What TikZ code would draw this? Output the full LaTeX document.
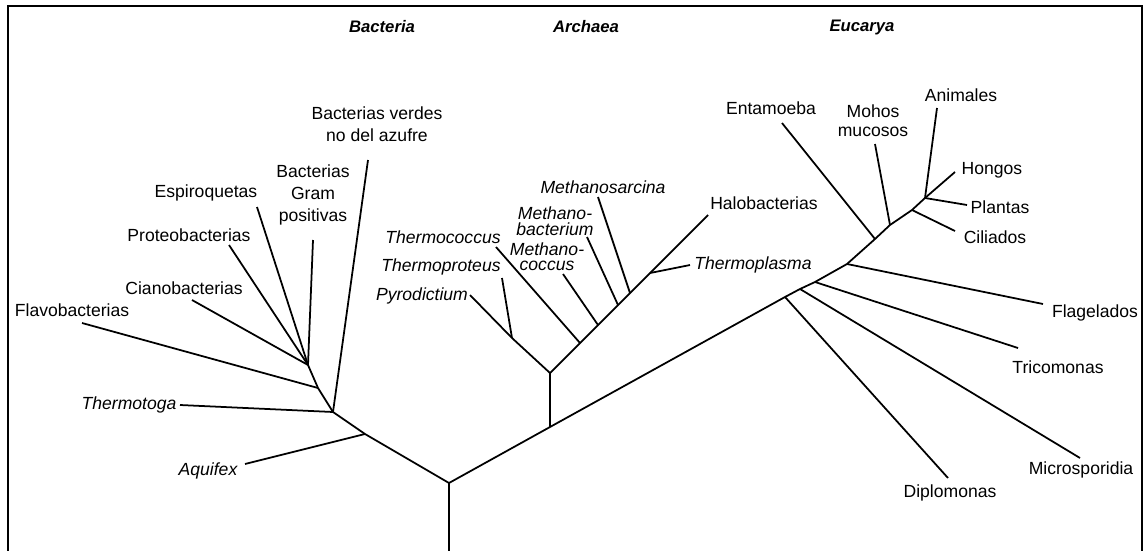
\documentclass[tikz,border=0pt]{standalone}
\usepackage{fontspec}
\setmainfont{Liberation Sans}

\begin{document}
\begin{tikzpicture}[x=0.02cm, y=-0.02cm,
    lbl/.style={inner sep=0pt, font=\fontsize{10}{12.5}\selectfont, align=center},
    ilbl/.style={lbl, font=\fontsize{10}{12.5}\selectfont\itshape},
    dom/.style={inner sep=0pt, font=\fontsize{9.5}{11}\selectfont\bfseries\itshape},
    branch/.style={line width=1pt, line join=round}]
    \useasboundingbox (0,0) rectangle (1143,551);

    % Frame
    \draw[line width=1.4pt] (8,551) -- (8,6) -- (1142,6) -- (1142,551);

    % Domains
    \node[dom] (bac) at (382,27) {Bacteria};
    \node[dom] (arc) at (586,27) {Archaea};
    \node[dom] (euc) at (862,27) {Eucarya};

    % Junctions
    \coordinate (base) at (449,551);
    \coordinate (r) at (449,483);
    \coordinate (a) at (365,434);
    \coordinate (b1) at (333,412);
    \coordinate (b2) at (318,388);
    \coordinate (b3) at (308,365);
    \coordinate (ar0) at (550,427);
    \coordinate (ar) at (550,373);
    \coordinate (p1) at (512,338);
    \coordinate (t1) at (580,343);
    \coordinate (t2) at (598,325);
    \coordinate (t3) at (618,305);
    \coordinate (t4) at (630,293);
    \coordinate (t5) at (650,273);
    \coordinate (e1) at (785,297);
    \coordinate (e2) at (800,289);
    \coordinate (e3) at (815,282);
    \coordinate (e4) at (847,264);
    \coordinate (e5) at (875,239);
    \coordinate (e6) at (890,225);
    \coordinate (e7) at (912,210);
    \coordinate (e8) at (925,198);

    % Bacteria labels
    \node[lbl] (flavo) at (72,310) {Flavobacterias};
    \node[lbl] (ciano) at (184,288) {Cianobacterias};
    \node[lbl] (proteo) at (189,235) {Proteobacterias};
    \node[lbl] (espiro) at (206,193) {Espiroquetas};
    \node[lbl] (gram) at (313,195) {Bacterias\\Gram\\positivas};
    \node[lbl] (verdes) at (377,124) {Bacterias verdes\\no del azufre};
    \node[ilbl] (thtoga) at (129,405) {Thermotoga};
    \node[ilbl] (aquif) at (208,471) {Aquifex};
    \coordinate (flavo-t) at (82,323);
    \coordinate (ciano-t) at (192,300);
    \coordinate (proteo-t) at (229,245);
    \coordinate (espiro-t) at (257,207);
    \coordinate (gram-t) at (313,240);
    \coordinate (verdes-t) at (368,160);
    \coordinate (thtoga-t) at (180,405);
    \coordinate (aquif-t) at (245,464);

    % Archaea labels
    \node[ilbl] (pyro) at (422,296) {Pyrodictium};
    \node[ilbl] (thprot) at (441,267) {Thermoproteus};
    \node[ilbl] (thcoc) at (443,237) {Thermococcus};
    \node[ilbl, font=\fontsize{10}{8.5}\selectfont\itshape] (mcoc) at (547,257) {Methano-\\coccus};
    \node[ilbl, font=\fontsize{10}{9}\selectfont\itshape] (mbac) at (555,221) {Methano-\\bacterium};
    \node[ilbl] (msar) at (603,187) {Methanosarcina};
    \node[lbl] (halo) at (764,203) {Halobacterias};
    \node[ilbl] (thpl) at (753,265) {Thermoplasma};
    \coordinate (pyro-t) at (470,295);
    \coordinate (thprot-t) at (502,278);
    \coordinate (thcoc-t) at (496,247);
    \coordinate (mcoc-t) at (563,274);
    \coordinate (mbac-t) at (587,237);
    \coordinate (msar-t) at (598,197);
    \coordinate (halo-t) at (708,215);
    \coordinate (thpl-t) at (690,265);

    % Eucarya labels
    \node[lbl] (diplo) at (950,493) {Diplomonas};
    \node[lbl] (micro) at (1081,470) {Microsporidia};
    \node[lbl] (trico) at (1058,367) {Tricomonas};
    \node[lbl] (flag) at (1095,313) {Flagelados};
    \node[lbl] (entam) at (771,108) {Entamoeba};
    \node[lbl, font=\fontsize{10}{11}\selectfont] (mohos) at (873,121) {Mohos\\mucosos};
    \node[lbl] (cilia) at (995,237) {Ciliados};
    \node[lbl] (anim) at (961,95) {Animales};
    \node[lbl] (hong) at (992,170) {Hongos};
    \node[lbl] (plant) at (1000,207) {Plantas};
    \coordinate (diplo-t) at (948,478);
    \coordinate (micro-t) at (1080,458);
    \coordinate (trico-t) at (1018,348);
    \coordinate (flag-t) at (1043,304);
    \coordinate (entam-t) at (782,123);
    \coordinate (mohos-t) at (875,144);
    \coordinate (cilia-t) at (955,231);
    \coordinate (anim-t) at (937,108);
    \coordinate (hong-t) at (955,172);
    \coordinate (plant-t) at (967,205);

    % Trunk
    \draw[branch] (base) -- (r) -- (a) -- (b1) -- (b2) -- (b3);
    \draw[branch] (r) -- (ar0) -- (e1) -- (e2) -- (e3) -- (e4) -- (e5) -- (e6) -- (e7) -- (e8);
    \draw[branch] (ar0) -- (ar);

    % Bacteria branches
    \draw[branch] (flavo-t) -- (b2);
    \foreach \t in {ciano-t, proteo-t, espiro-t, gram-t}
        \draw[branch] (\t) -- (b3);
    \draw[branch] (verdes-t) -- (b1);
    \draw[branch] (thtoga-t) -- (b1);
    \draw[branch] (aquif-t) -- (a);

    % Archaea branches
    \draw[branch] (ar) -- (p1) -- (pyro-t);
    \draw[branch] (thprot-t) -- (p1);
    \draw[branch] (ar) -- (t1) -- (t2) -- (t3) -- (t4) -- (t5) -- (halo-t);
    \draw[branch] (thcoc-t) -- (t1);
    \draw[branch] (mcoc-t) -- (t2);
    \draw[branch] (mbac-t) -- (t3);
    \draw[branch] (msar-t) -- (t4);
    \draw[branch] (thpl-t) -- (t5);

    % Eucarya branches
    \draw[branch] (diplo-t) -- (e1);
    \draw[branch] (micro-t) -- (e2);
    \draw[branch] (trico-t) -- (e3);
    \draw[branch] (flag-t) -- (e4);
    \draw[branch] (entam-t) -- (e5);
    \draw[branch] (mohos-t) -- (e6);
    \draw[branch] (cilia-t) -- (e7);
    \foreach \t in {anim-t, hong-t, plant-t}
        \draw[branch] (\t) -- (e8);
\end{tikzpicture}
\end{document}
